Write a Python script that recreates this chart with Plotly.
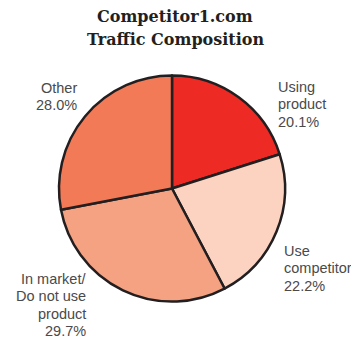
import plotly.graph_objects as go

labels = ["Using<br>product", "Use<br>competitor", "In market/<br>Do not use<br>product", "Other"]
values = [20.1, 22.2, 29.7, 28.0]
colors = ["#ee2a24", "#fcd3c1", "#f5a283", "#f37a57"]

# label placement: x edge, centre y of first line (px in reference), alignment
label_pos = [(276, 87, "left"), (282, 251, "left"), (88, 279, "right"), (79, 88, "right")]
LINE = 17.3

# the page has an 8px body margin, so the figure is shifted by that much
OFF = 8
W, H = 359 - OFF, 339 - OFF


def px(x):
    return (x - OFF) / W


def py(y):
    return 1 - (y - OFF) / H


fig = go.Figure()
fig.add_trace(go.Pie(
    labels=labels, values=values, sort=False, direction="clockwise", rotation=0,
    marker=dict(colors=colors, line=dict(color="#231f20", width=2.5)),
    textinfo="none", hoverinfo="label+percent", showlegend=False,
    domain=dict(x=[px(59), px(285)], y=[py(302), py(75)]),
))

for lab, val, (x0, y0, al) in zip(labels, values, label_pos):
    lines = lab.split("<br>") + [f"{val:.1f}%"]
    for i, ln in enumerate(lines):
        fig.add_annotation(
            x=px(x0), y=py(y0 + i * LINE), xref="paper", yref="paper",
            text=ln, showarrow=False, xanchor=al, yanchor="middle",
            font=dict(family="Liberation Sans, Arial", size=14.5, color="#4a4a4a"),
        )

for i, t in enumerate(["Competitor1.com", "Traffic Composition"]):
    fig.add_annotation(
        x=px(175), y=py(17 + i * 22.5), xref="paper", yref="paper",
        text=f"<b>{t}</b>", showarrow=False, xanchor="center", yanchor="middle",
        font=dict(family="DejaVu Serif", size=16, color="#231f20"),
    )

fig.update_layout(
    width=W, height=H, margin=dict(l=0, r=0, t=0, b=0),
    paper_bgcolor="white", plot_bgcolor="white",
)

fig.write_html("out.html")
